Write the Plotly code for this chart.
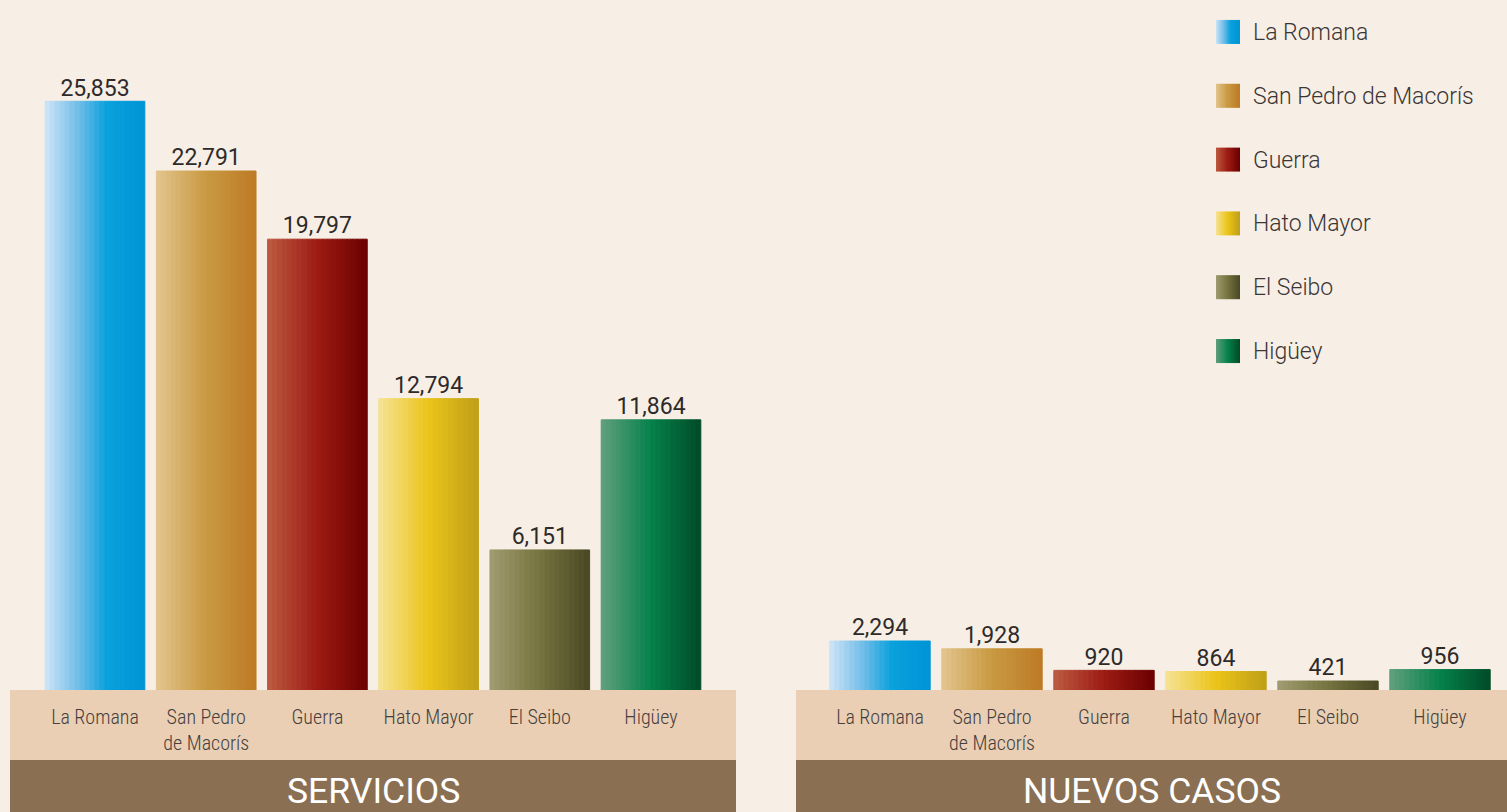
import plotly.graph_objects as go

# ---------------- data ----------------
categories = ["La Romana", "San Pedro de Macorís", "Guerra", "Hato Mayor", "El Seibo", "Higüey"]
tick_labels = ["La Romana", "San Pedro<br>de Macorís", "Guerra", "Hato Mayor", "El Seibo", "Higüey"]
servicios = [25853, 22791, 19797, 12794, 6151, 11864]
nuevos_casos = [2294, 1928, 920, 864, 421, 956]
panel_titles = ["SERVICIOS", "NUEVOS CASOS"]

# ---------------- style ----------------
W, H = 1507, 812
BG = "#f7efe5"
BEIGE = "#eacfb4"
BROWN = "#8a6f53"
TEXT = "#2e2a2a"
N_SLICES = 20

gradient_stops = [
    [(0.0, "#cfe5f7"), (0.35, "#6dbce8"), (0.62, "#0aa1dc"), (1.0, "#0093d6")],
    [(0.0, "#e3c58f"), (0.5, "#c99a42"), (1.0, "#bd7a25")],
    [(0.0, "#bd5b42"), (0.5, "#9d1c14"), (1.0, "#6b0000")],
    [(0.0, "#f6e296"), (0.5, "#ebc51a"), (1.0, "#bf9f18")],
    [(0.0, "#a29c72"), (0.5, "#767440"), (1.0, "#4a4824")],
    [(0.0, "#62a07e"), (0.5, "#06824b"), (1.0, "#004b28")],
]


def hex_rgb(h):
    h = h.lstrip("#")
    return [int(h[i:i + 2], 16) for i in (0, 2, 4)]


def interp(stops, t):
    for (t0, c0), (t1, c1) in zip(stops[:-1], stops[1:]):
        if t0 <= t <= t1:
            f = (t - t0) / (t1 - t0)
            a, b = hex_rgb(c0), hex_rgb(c1)
            return "rgb(%d,%d,%d)" % tuple(round(a[i] + (b[i] - a[i]) * f) for i in range(3))
    return stops[-1][1]


def px_x(p):
    return p / W


def px_y(p):
    return 1 - p / H


fig = go.Figure()

# gradient bars: each bar is split into N vertical slices (grouped bars)
for k in range(N_SLICES):
    t = (k + 0.5) / N_SLICES
    cols = [interp(stops, t) for stops in gradient_stops]
    for vals, xa, ya in ((servicios, "x", "y"), (nuevos_casos, "x2", "y2")):
        fig.add_trace(go.Bar(
            x=categories, y=vals, xaxis=xa, yaxis=ya,
            marker=dict(color=cols, line=dict(width=1, color=cols)),
            showlegend=False, hoverinfo="skip",
        ))
    # legend swatches (horizontal gradient)
    fig.add_trace(go.Bar(
        y=categories, x=[1 / N_SLICES] * len(categories), base=[k / N_SLICES] * len(categories),
        orientation="h", width=0.36, offset=-0.18,
        xaxis="x3", yaxis="y3",
        marker=dict(color=cols, line=dict(width=1, color=cols)),
        showlegend=False, hoverinfo="skip",
    ))

# value labels
for vals, xa, ya in ((servicios, "x", "y"), (nuevos_casos, "x2", "y2")):
    fig.add_trace(go.Scatter(
        x=categories, y=vals, xaxis=xa, yaxis=ya, mode="text",
        text=[f"{v:,}" for v in vals], textposition="top center",
        textfont=dict(family="Roboto", size=23, color=TEXT),
        cliponaxis=False, showlegend=False, hoverinfo="skip",
    ))

tick_font = dict(family="Roboto Condensed, Liberation Sans Narrow, Roboto", size=20,
                 color="#46403d", weight=300)

common_x = dict(type="category", showgrid=False, zeroline=False, showline=False,
                ticks="", tickmode="array", tickvals=categories, ticktext=tick_labels,
                tickfont=tick_font, ticklabelstandoff=13, fixedrange=True)
common_y = dict(showgrid=False, zeroline=False, showline=False, showticklabels=False,
                ticks="", fixedrange=True)

fig.update_layout(
    width=W, height=H,
    margin=dict(l=0, r=0, t=0, b=0),
    paper_bgcolor=BG, plot_bgcolor="rgba(0,0,0,0)",
    barmode="group", bargap=0.104, bargroupgap=0,
    showlegend=False,
    xaxis=dict(domain=[px_x(39.4), px_x(706.6)], anchor="y", **common_x),
    yaxis=dict(domain=[px_y(690), 1], range=[0, 30300], anchor="x", **common_y),
    xaxis2=dict(domain=[px_x(824), px_x(1496)], anchor="y2", **common_x),
    yaxis2=dict(domain=[px_y(690), 1], range=[0, 32300], anchor="x2", **common_y),
    xaxis3=dict(domain=[px_x(1216), px_x(1240)], range=[0, 1], anchor="y3",
                visible=False, fixedrange=True),
    yaxis3=dict(domain=[px_y(383), 1], type="category", range=[5.5, -0.5], anchor="x3",
                side="right", showgrid=False, zeroline=False, showline=False, ticks="",
                tickfont=dict(family="Roboto", size=23, color="#3b3536", weight=300),
                ticklabelstandoff=12, fixedrange=True),
)

# label bands and title bands
bands = [(10, 736), (796, 1507)]
for (x0, x1), title in zip(bands, panel_titles):
    fig.add_shape(type="rect", xref="paper", yref="paper", layer="below",
                  x0=px_x(x0), x1=px_x(x1), y0=px_y(760), y1=px_y(690),
                  fillcolor=BEIGE, line=dict(width=0))
    fig.add_shape(type="rect", xref="paper", yref="paper", layer="below",
                  x0=px_x(x0), x1=px_x(x1), y0=0, y1=px_y(760),
                  fillcolor=BROWN, line=dict(width=0))
    fig.add_annotation(xref="paper", yref="paper", x=px_x((x0 + x1) / 2), y=px_y(791),
                       text=title, showarrow=False, xanchor="center", yanchor="middle",
                       font=dict(family="Roboto", size=35.5, color="white"))

page_css = ("document.body.style.margin='0';document.body.style.padding='0';"
            "document.body.style.background='%s';"
            "document.body.style.overflow='hidden';" % BG)
fig.write_html("out.html", config={"displayModeBar": False}, post_script=page_css)
